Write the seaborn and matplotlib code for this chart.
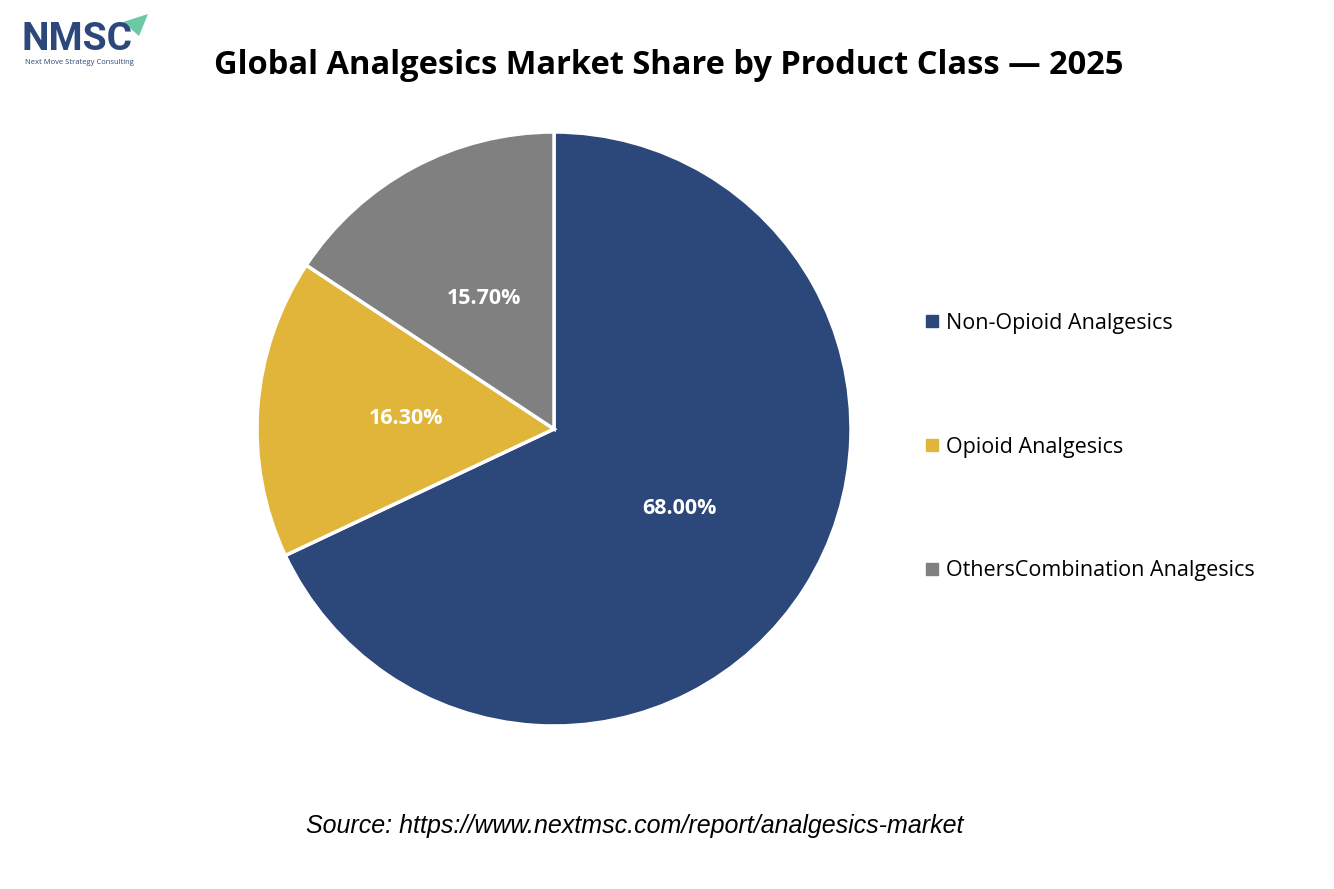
import matplotlib
matplotlib.use("Agg")
import matplotlib.pyplot as plt
from matplotlib.lines import Line2D
from matplotlib.patches import Polygon
import seaborn as sns

# Dane do wykresu
categories = ["Non-Opioid Analgesics", "Opioid Analgesics", "OthersCombination Analgesics"]
shares = [68.00, 16.30, 15.70]
colors = ["#2C4779", "#E1B53A", "#808080"]

title = "Global Analgesics Market Share by Product Class \u2014 2025"
source = "Source: https://www.nextmsc.com/report/analgesics-market"

sns.set_theme(style="white")
plt.rcParams["font.family"] = ["Open Sans", "DejaVu Sans"]

fig = plt.figure(figsize=(13.34, 8.89), dpi=100)
fig.patch.set_facecolor("white")

# Os dla wykresu kolowego (srodek ~ (554, 429), promien ~297 px)
ax = fig.add_axes([257 / 1334, (889 - 429 - 297) / 889, 594 / 1334, 594 / 889])
wedges, texts, autotexts = ax.pie(
    shares, colors=colors, startangle=90, counterclock=False,
    autopct="%.2f%%", pctdistance=0.5,
    wedgeprops=dict(edgecolor="white", linewidth=2.5),
    textprops=dict(color="white", fontsize=15.5, fontweight="bold"),
)
ax.set_xlim(-1.0, 1.0)
ax.set_ylim(-1.0, 1.0)
ax.set_aspect("equal")
ax.axis("off")

# Legenda
handles = [Line2D([0], [0], marker="s", linestyle="none", markersize=9,
                  markerfacecolor=c, markeredgecolor=c) for c in colors]
leg = fig.legend(handles, categories, loc="center left", bbox_to_anchor=(0.684, 0.497),
                 frameon=False, fontsize=15.5, labelspacing=4.77, handletextpad=0.25,
                 handlelength=0.8, borderpad=0)
for t in leg.get_texts():
    t.set_color("black")

# Tytul i zrodlo
fig.text(0.501, 1 - 66 / 889, title, ha="center", va="center",
         fontsize=23.5, fontweight="bold", color="black")
fig.text(0.476, 1 - 826 / 889, source, ha="center", va="center",
         fontsize=18, style="italic", family=["Liberation Sans", "DejaVu Sans"],
         color="black")

# Logo NMSC (uproszczone)
fig.text(22 / 1334, 1 - 40 / 889, "NMSC", ha="left", va="center", fontsize=28,
         fontweight="bold", color="#2C4779", family=["Roboto", "DejaVu Sans"])
fig.text(25 / 1334, 1 - 62 / 889, "Next Move Strategy Consulting", ha="left",
         va="center", fontsize=5.5, color="#2C4779")
fig.patches.append(Polygon([[123 / 1334, 1 - 22 / 889], [148 / 1334, 1 - 14 / 889],
                            [139 / 1334, 1 - 36 / 889]], closed=True,
                           transform=fig.transFigure, facecolor="#6CC9A5",
                           edgecolor="none"))

fig.savefig("out.png", dpi=100, facecolor="white")
